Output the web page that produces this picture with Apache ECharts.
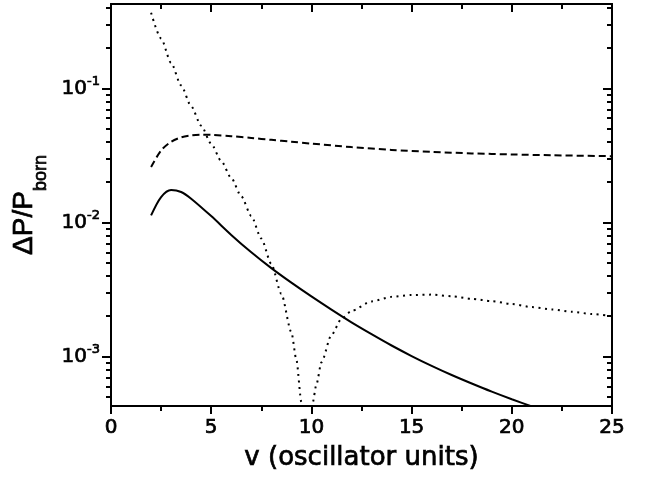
<!DOCTYPE html>
<html><head><meta charset="utf-8">
<script src="https://cdn.jsdelivr.net/npm/echarts@6/dist/echarts.min.js"></script>
<style>html,body{margin:0;padding:0;background:#fff}#c{width:645px;height:481px}</style>
</head><body><div id="c"></div>
<script>
// ---- data ----
const solidV = [2,2.5,3,3.5,4,5,6,7,8,9,10,11,12,13,14,15,16,17,18,19,20,21,22];
const solidP = [0.0113,0.0155,0.0175,0.0169,0.01507,0.01117,0.00809,0.0060,0.00457,0.00356,0.00281,0.00224,0.00180,0.00147,0.00121,0.00101,0.000853,0.000729,0.000630,0.000548,0.000481,0.000425,0.000377];

const dashedV = [2,2.5,3,3.5,4,4.5,5,6,7,8,9,10,12,14,16,18,20,22,25];
const dashedP = [0.026,0.0345,0.040,0.0432,0.0447,0.0452,0.04508,0.04406,0.04276,0.04140,0.04009,0.03882,0.03656,0.03483,0.03365,0.03281,0.03221,0.03177,0.03126];

const dottedV = [2,2.5,3,3.5,4,4.5,5,5.5,6,6.5,7,7.5,8,8.5,9,9.25,9.5,9.78,10.05,10.25,10.5,11,11.5,12,13,14,15,16,17,18,19,20,21,22,23,24,25];
const dottedP = [0.367,0.236,0.155,0.1054,0.0738,0.0528,0.0387,0.0288,0.0215,0.0157,0.0112,0.0076,0.00491,0.00294,0.00152,0.00095,0.000457,0.00001,0.000443,0.000618,0.000906,0.00145,0.00191,0.00219,0.00258,0.00279,0.00288,0.0029,0.00282,0.0027,0.00259,0.00247,0.00234,0.00225,0.00216,0.00208,0.002];

const yMajorTicks = [0.001, 0.01, 0.1];
const yMinorTicks = [0.0005,0.0006,0.0007,0.0008,0.0009,0.002,0.003,0.004,0.005,0.006,0.007,0.008,0.009,0.02,0.03,0.04,0.05,0.06,0.07,0.08,0.09,0.2,0.3,0.4];
const yMin = 0.000428, yMax = 0.427;
const xMin = 0, xMax = 25, xStep = 5;
const xTitle = 'v (oscillator units)';

// ---- chart ----
const FONT = '"DejaVu Sans", sans-serif';
const TFONT = '"Liberation Sans", Arial, sans-serif';
const BLACK = '#000';
const HEAVY = { textBorderColor: BLACK, textBorderWidth: 0.7 };
const pairs = (v, p) => v.map((x, i) => [x, p[i]]);

function yAxis(pos, ticks, len, inside, extra) {
  return Object.assign({
    type: 'log', position: pos, min: yMin, max: yMax, logBase: 10,
    axisLine: { show: true, lineStyle: { color: BLACK, width: 2 } },
    axisTick: { show: true, inside: inside, length: len, customValues: ticks, lineStyle: { color: BLACK, width: 2 } },
    minorTick: { show: false },
    axisLabel: { show: false },
    splitLine: { show: false }
  }, extra || {});
}

const chart = echarts.init(document.getElementById('c'), null, { renderer: 'canvas' });
chart.setOption({
  animation: false,
  backgroundColor: '#fff',
  grid: { left: 111, right: 33, top: 4, bottom: 75, containLabel: false },
  xAxis: [
    {
      type: 'value', position: 'bottom', min: xMin, max: xMax, interval: xStep,
      axisLine: { lineStyle: { color: BLACK, width: 2 } },
      axisTick: { inside: false, length: 8, lineStyle: { color: BLACK, width: 2 } },
      minorTick: { show: true, splitNumber: 2, length: 5, lineStyle: { color: BLACK, width: 2 } },
      axisLabel: Object.assign({ fontSize: 20, color: BLACK, margin: 12, fontFamily: FONT }, HEAVY),
      splitLine: { show: false },
      name: xTitle, nameLocation: 'middle', nameGap: 39,
      nameTextStyle: Object.assign({ fontSize: 26, color: BLACK, fontFamily: FONT }, HEAVY)
    },
    {
      type: 'value', position: 'top', min: xMin, max: xMax, interval: xStep,
      axisLine: { lineStyle: { color: BLACK, width: 2 } },
      axisTick: { inside: true, length: 8, lineStyle: { color: BLACK, width: 2 } },
      minorTick: { show: true, splitNumber: 2, length: 5, lineStyle: { color: BLACK, width: 2 } },
      axisLabel: { show: false },
      splitLine: { show: false }
    }
  ],
  yAxis: [
    yAxis('left', yMajorTicks, 9, false, {
      axisLabel: {
        show: true, customValues: yMajorTicks, margin: 11,
        formatter: v => '{b|10}{s|' + Math.round(Math.log10(v)) + '}',
        rich: {
          b: Object.assign({ fontSize: 20, color: BLACK, fontFamily: FONT }, HEAVY),
          s: Object.assign({ fontSize: 13, color: BLACK, fontFamily: FONT, padding: [0, 0, 13, 0] }, HEAVY)
        }
      },
      name: '{a|ΔP/P}{sub|born}', nameLocation: 'middle', nameGap: 56, nameRotate: 90,
      nameTextStyle: {
        rich: {
          a: Object.assign({ fontSize: 28, color: BLACK, fontFamily: TFONT }, HEAVY),
          sub: Object.assign({ fontSize: 18, color: BLACK, fontFamily: TFONT, padding: [34, 0, 0, 0] }, HEAVY)
        }
      }
    }),
    yAxis('left', yMinorTicks, 5, false),
    yAxis('right', yMajorTicks, 9, true),
    yAxis('right', yMinorTicks, 5, true)
  ],
  series: [
    {
      type: 'line', data: pairs(solidV, solidP), showSymbol: false, smooth: 0.3,
      lineStyle: { color: BLACK, width: 2, type: 'solid' }, clip: true
    },
    {
      type: 'line', data: pairs(dashedV, dashedP), showSymbol: false, smooth: 0.3,
      lineStyle: { color: BLACK, width: 2, type: [7, 4] }, clip: true
    },
    {
      type: 'line', data: pairs(dottedV, dottedP), showSymbol: false, smooth: 0.25, smoothMonotone: 'x',
      lineStyle: { color: BLACK, width: 2, type: [2, 4.5] }, clip: true
    }
  ]
});
</script></body></html>
